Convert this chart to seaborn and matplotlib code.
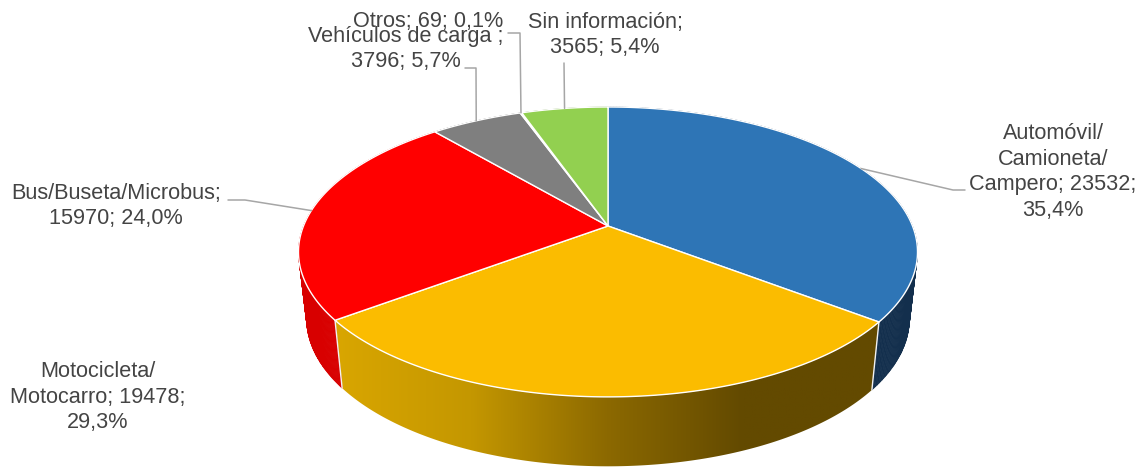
import numpy as np
import matplotlib
matplotlib.use('Agg')
import matplotlib.pyplot as plt
from matplotlib.patches import Polygon
import seaborn as sns

sns.set_theme(style='white')
plt.rcParams['font.family'] = ['Liberation Sans', 'DejaVu Sans']

# Data
values = [23532, 19478, 15970, 3796, 69, 3565]
label_texts = ['Automóvil/\nCamioneta/\nCampero; 23532;\n35,4%',
               'Motocicleta/\nMotocarro; 19478;\n29,3%',
               'Bus/Buseta/Microbus;\n15970; 24,0%',
               'Vehículos de carga ;\n3796; 5,7%',
               'Otros; 69; 0,1%',
               'Sin información;\n3565; 5,4%']

top_colors = sns.color_palette(['#2E75B6', '#FBBC00', '#FF0000', '#7F7F7F', '#DCE6F2', '#92D050'])
side_colors = sns.color_palette(['#132F4D', '#8C6900', '#D80000', '#5A5A5A', '#A0A0A0', '#6A9A38'])
gold_ramp = sns.blend_palette(['#D9A600', '#C49700', '#8C6900', '#634A00', '#634A00'], as_cmap=True)

# Layout of the tilted disc, in pixels
cx, cy = 608, 226
b, a, k = 304.5, 140.3, 0.179
drop, bottom_x, bottom_y = 66, 0.974, 1.02


def rim(theta, bottom=False):
    # theta runs clockwise from 12 o'clock, perspective makes the front bigger
    X, Y = np.sin(theta), np.cos(theta)
    w = 1 + k * Y
    x, y = b * X / w, -a * Y / w
    if bottom:
        return cx + x * bottom_x, cy + drop + y * bottom_y
    return cx + x, cy + y


fractions = np.array(values) / sum(values)
edges = np.concatenate([[0], np.cumsum(fractions)]) * 2 * np.pi

fig = plt.figure(figsize=(11.4, 4.67), dpi=100)
ax = fig.add_axes([0, 0, 1, 1])

# Side walls
for i in range(len(values)):
    t = np.linspace(edges[i], edges[i + 1], 200)
    xt, yt = rim(t)
    xb, yb = rim(t, bottom=True)
    if i == 1:
        pts = np.column_stack([np.r_[xt, xb[::-1]], np.r_[yt, yb[::-1]]])
        wall = Polygon(pts, closed=True, fc='none', ec='none')
        ax.add_patch(wall)
        grad = np.linspace(0, 1, 256).reshape(1, -1)
        img = ax.imshow(grad, cmap=gold_ramp, aspect='auto',
                        extent=[xt.min(), xt.max(), 480, 300], zorder=1)
        img.set_clip_path(wall)
    else:
        # quads, so the outline also fills where the wall turns away
        for j in range(len(t) - 1):
            quad = [(xt[j], yt[j]), (xt[j + 1], yt[j + 1]), (xb[j + 1], yb[j + 1]), (xb[j], yb[j])]
            ax.add_patch(Polygon(quad, closed=True, fc=side_colors[i], ec=side_colors[i], lw=0.5, zorder=1))

# Seams between wedges on the wall
for i in [1, 2]:
    x0, y0 = rim(edges[i])
    x1, y1 = rim(edges[i], bottom=True)
    ax.plot([x0, x1], [y0, y1], color='#F2F2F2', lw=1, zorder=2)

# Top face
for i in range(len(values)):
    t = np.linspace(edges[i], edges[i + 1], 200)
    xt, yt = rim(t)
    pts = np.column_stack([np.r_[cx, xt], np.r_[cy, yt]])
    ax.add_patch(Polygon(pts, closed=True, fc=top_colors[i], ec='white', lw=1, zorder=3))

# Labels
label_pos = [(1053, 172), (98, 397), (116, 206), (406, 49), (428, 21), (605, 35)]
elbows = [[(953, 190), (965, 190)],
          None,
          [(245, 200), (228, 200)],
          [(476, 68), (465, 68)],
          [(520, 33), (508, 33)],
          [(564, 63)]]
for i, txt in enumerate(label_texts):
    ax.text(label_pos[i][0], label_pos[i][1], txt, ha='center', va='center', fontsize=15.6,
            color='#444444', linespacing=1.28, zorder=5)
    if elbows[i] is not None:
        mid = (edges[i] + edges[i + 1]) / 2
        sx, sy = rim(mid)
        lx = [sx] + [p[0] for p in elbows[i]]
        ly = [sy] + [p[1] for p in elbows[i]]
        ax.plot(lx, ly, color='#A6A6A6', lw=1.1, zorder=4)

ax.set_xlim(0, 1140)
ax.set_ylim(467, 0)
ax.axis('off')
fig.savefig('out.png', dpi=100, facecolor='white')
